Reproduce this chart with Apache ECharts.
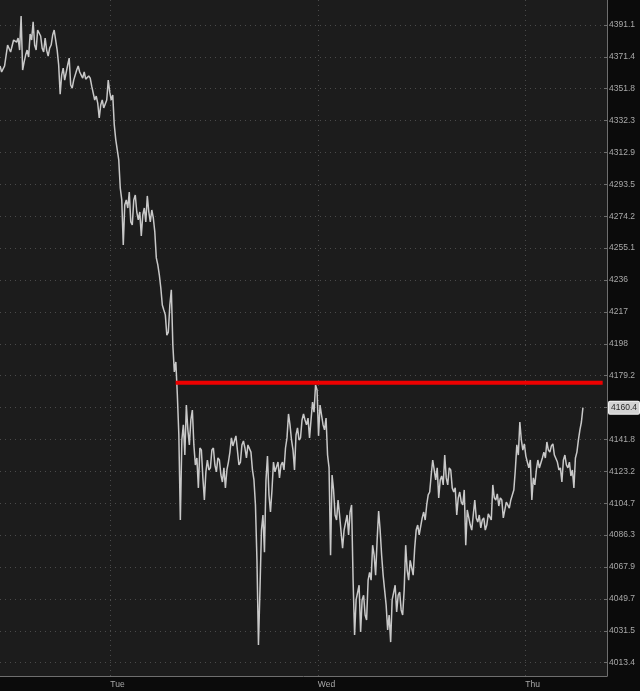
<!DOCTYPE html>
<html>
<head>
<meta charset="utf-8">
<script src="https://cdn.jsdelivr.net/npm/echarts@6/dist/echarts.min.js"></script>
<style>
html,body{margin:0;padding:0;background:#0b0b0b;}
#chart{width:640px;height:691px;}
</style>
</head>
<body>
<div id="chart"></div>
<script>
// ---- data ----
const yTickValues = [4013.4, 4031.5, 4049.7, 4067.9, 4086.3, 4104.7, 4123.2, 4141.8, 4160.4, 4179.2, 4198, 4217, 4236, 4255.1, 4274.2, 4293.5, 4312.9, 4332.3, 4351.8, 4371.4, 4391.1];
const dayTickHours = [24, 48, 72];
const dayLabels = ['Tue', 'Wed', 'Thu'];
const startHour = 11.25;   // hours since Monday 00:00 of first sample
const stepHour = 0.3475;   // hours between samples
// price at each sample time
const prices = [
 4365.8, 4362.7, 4367.0, 4377.5, 4373.7, 4382.4, 4383.0, 4396.7, 4368.2, 4375.6,
 4385.5, 4393.0, 4375.6, 4388.0, 4376.8, 4383.0, 4371.9, 4378.7, 4388.0, 4375.6,
 4348.5, 4364.5, 4358.3, 4370.6, 4352.2, 4358.3, 4365.8, 4360.2, 4362.1, 4357.1,
 4358.3, 4352.2, 4347.3, 4333.9, 4344.9, 4338.8, 4357.1, 4344.9, 4329.8, 4319.5,
 4291.3, 4257.0, 4284.1, 4288.9, 4269.0, 4287.1, 4272.0, 4262.4, 4279.2, 4286.5,
 4270.8, 4273.2, 4249.2, 4239.1, 4221.1, 4215.2, 4205.0, 4230.1, 4181.4, 4167.8,
 4095.0, 4150.3, 4161.9, 4138.6, 4159.0, 4126.9, 4113.6, 4135.6, 4106.6, 4129.8,
 4125.2, 4136.8, 4122.9, 4129.8, 4117.0, 4113.6, 4128.6, 4142.7, 4138.0, 4145.0,
 4128.6, 4140.9, 4131.0, 4139.2, 4124.0, 4103.7, 4023.5, 4089.2, 4076.4, 4132.1,
 4099.6, 4128.6, 4124.0, 4119.4, 4128.6, 4136.8, 4156.7, 4141.5, 4124.0, 4148.6,
 4142.7, 4156.7, 4150.3, 4142.7, 4163.7, 4173.7, 4143.9, 4156.1, 4147.4, 4132.7,
 4074.7, 4112.4, 4095.0, 4097.9, 4078.8, 4088.1, 4086.4, 4103.7, 4029.1, 4050.2,
 4030.8, 4051.8, 4037.7, 4064.9, 4080.5, 4063.3, 4100.2, 4074.7, 4054.7, 4032.0,
 4025.1, 4050.2, 4042.3, 4053.6, 4040.5, 4080.5, 4060.4, 4071.8, 4078.8, 4092.1,
 4086.4, 4099.6, 4103.7, 4111.2, 4129.8, 4118.2, 4107.8, 4120.5, 4132.7, 4115.3,
 4124.0, 4111.2, 4097.9, 4111.2, 4103.7, 4080.5, 4100.8, 4089.2, 4106.6, 4093.8,
 4090.4, 4096.2, 4092.1, 4099.6, 4115.3, 4106.6, 4103.1, 4106.6, 4096.2, 4104.3,
 4106.6, 4112.4, 4138.6, 4152.0, 4135.6, 4132.1, 4125.2, 4106.6, 4115.3, 4129.8,
 4126.3, 4134.4, 4140.3, 4134.4, 4139.2, 4132.1, 4124.0, 4117.0, 4132.7, 4125.2,
 4120.5, 4113.6, 4134.4, 4147.4, 4160.4
];
// opposite swing read half-way between consecutive samples
const midPrices = [
 4362.1, 4365.8, 4378.7, 4374.4, 4381.8, 4380.5, 4375.6, 4363.3, 4372.5, 4371.3,
 4381.8, 4378.7, 4388.0, 4384.3, 4374.4, 4375.6, 4376.8, 4384.9, 4381.8, 4366.4,
 4360.2, 4357.1, 4366.4, 4354.1, 4357.1, 4363.3, 4362.1, 4358.3, 4357.7, 4359.6,
 4353.4, 4344.9, 4343.0, 4341.8, 4340.0, 4344.9, 4349.7, 4347.9, 4320.7, 4308.4,
 4284.1, 4281.0, 4279.2, 4270.8, 4284.1, 4276.8, 4276.8, 4275.0, 4270.8, 4276.8,
 4278.0, 4264.8, 4245.0, 4231.2, 4218.1, 4203.2, 4221.1, 4197.4, 4187.3, 4144.4,
 4141.5, 4132.7, 4147.4, 4153.2, 4138.6, 4131.0, 4136.8, 4119.4, 4122.9, 4124.0,
 4135.6, 4126.9, 4131.0, 4121.1, 4125.2, 4124.0, 4134.4, 4138.0, 4143.9, 4126.9,
 4138.6, 4136.8, 4138.6, 4134.4, 4118.2, 4071.8, 4054.7, 4097.9, 4118.2, 4109.5,
 4112.4, 4122.9, 4128.6, 4126.9, 4124.0, 4142.7, 4150.3, 4135.6, 4144.4, 4141.5,
 4153.2, 4153.2, 4154.3, 4153.2, 4157.8, 4170.8, 4161.9, 4150.3, 4154.3, 4125.2,
 4121.1, 4097.9, 4106.6, 4088.1, 4089.2, 4097.9, 4099.6, 4060.4, 4049.1, 4057.5,
 4049.1, 4040.5, 4060.4, 4060.4, 4074.7, 4083.4, 4089.2, 4063.3, 4046.2, 4040.5,
 4049.1, 4057.5, 4051.8, 4043.4, 4054.7, 4066.1, 4071.8, 4063.3, 4089.2, 4086.4,
 4096.2, 4095.0, 4109.5, 4121.1, 4124.0, 4125.2, 4118.2, 4115.3, 4119.4, 4125.2,
 4113.6, 4113.6, 4107.8, 4105.4, 4112.4, 4100.8, 4092.1, 4097.9, 4096.2, 4097.9,
 4095.0, 4089.2, 4098.5, 4095.0, 4107.8, 4110.1, 4107.8, 4096.2, 4105.4, 4101.9,
 4109.5, 4124.0, 4132.7, 4141.5, 4139.2, 4128.6, 4129.8, 4119.4, 4124.0, 4125.2,
 4131.0, 4131.0, 4135.6, 4138.0, 4132.7, 4128.6, 4125.2, 4129.8, 4126.9, 4128.6,
 4124.0, 4131.0, 4141.5, 4152.0
];
const levelPrice = 4175.0;
const levelStartHour = 31.56;
const levelEndHour = 80.95;
const lastPrice = 4160.4;

// ---- chart ----
const chart = echarts.init(document.getElementById('chart'), null, {renderer: 'canvas'});
const labelFont = 'Liberation Sans';
const priceData = [];
prices.forEach((p, i) => {
  const t = startHour + i * stepHour;
  priceData.push([t, p]);
  if (i < midPrices.length) priceData.push([t + stepHour / 2, midPrices[i]]);
});

chart.setOption({
  backgroundColor: '#0b0b0b',
  animation: false,
  grid: {
    left: 0, top: 0, right: 33, bottom: 15,
    show: true, backgroundColor: '#1c1c1c', borderWidth: 0
  },
  xAxis: {
    type: 'value',
    min: 11.24, max: 81.45,
    axisLine: {show: true, lineStyle: {color: '#6e6e6e', width: 1}},
    axisTick: {show: false, customValues: dayTickHours},
    axisLabel: {
      customValues: dayTickHours,
      formatter: v => dayLabels[dayTickHours.indexOf(Math.round(v))] || '',
      color: '#a9a9a9', fontSize: 8.5, fontFamily: labelFont,
      align: 'left', margin: 4
    },
    splitLine: {show: true, lineStyle: {color: '#4a4a4a', type: [1, 4], width: 1}}
  },
  yAxis: {
    type: 'log',
    position: 'right',
    min: 4005.9, max: 4406.6,
    axisLine: {show: true, lineStyle: {color: '#6e6e6e', width: 1}},
    axisTick: {show: true, inside: true, length: 3, customValues: yTickValues, lineStyle: {color: '#6e6e6e'}},
    axisLabel: {
      customValues: yTickValues,
      formatter: v => String(+(+v).toFixed(1)),
      color: '#a9a9a9', fontSize: 8.5, fontFamily: labelFont, margin: 2
    },
    splitLine: {show: true, lineStyle: {color: '#4a4a4a', type: [1, 4], width: 1}}
  },
  series: [
    {
      type: 'line',
      data: priceData,
      showSymbol: false,
      symbol: 'none',
      clip: false,
      lineStyle: {color: '#c8c8c8', width: 1.5},
      z: 3,
      markLine: {
        silent: true,
        symbol: 'none',
        data: [{yAxis: lastPrice}],
        lineStyle: {color: 'rgba(0,0,0,0)', width: 0},
        label: {
          show: true, position: 'end', distance: 2, opacity: 1,
          formatter: String(lastPrice),
          backgroundColor: '#d2d2d2', color: '#2a2a2a',
          borderColor: '#f2f2f2', borderWidth: 1, borderRadius: 1,
          padding: [2, 2, 1, 2], fontSize: 8.5, fontFamily: labelFont
        }
      }
    },
    {
      type: 'line',
      data: [[levelStartHour, levelPrice], [levelEndHour, levelPrice]],
      showSymbol: false,
      symbol: 'none',
      lineStyle: {color: '#ee0000', width: 4},
      z: 4
    }
  ]
});
</script>
</body>
</html>
